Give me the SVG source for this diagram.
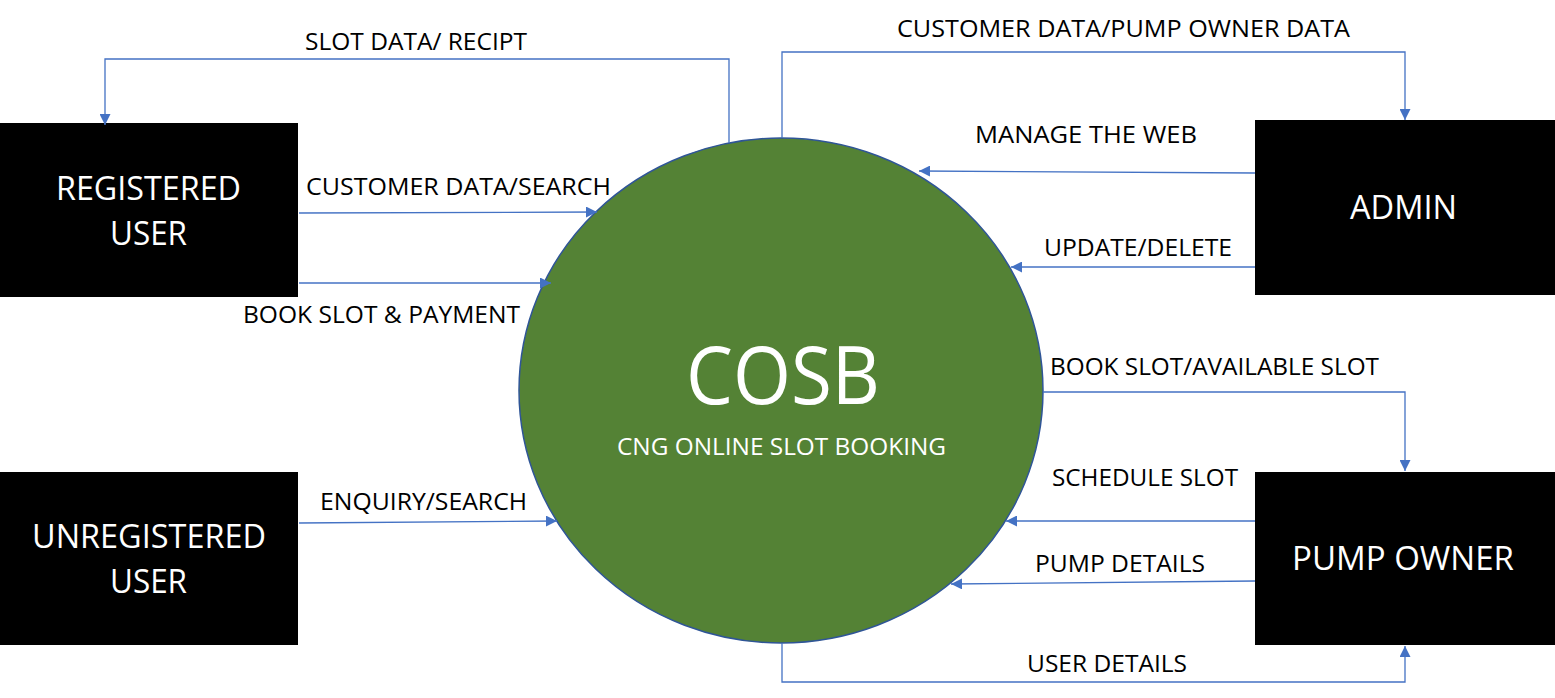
<svg xmlns="http://www.w3.org/2000/svg" width="1555" height="698" viewBox="0 0 1555 698">
<defs>
<style>
.bg{fill:#ffffff}
.box{fill:#000000}
.btxt{fill:#ffffff;font-family:"Open Sans","Liberation Sans",sans-serif;font-size:32px}
.lbl{fill:#000000;font-family:"Open Sans","Liberation Sans",sans-serif;font-size:24px}
.conn{fill:none;stroke:#4472C4;stroke-width:1.3;marker-end:url(#arr)}
.proc{fill:#548235;stroke:#2F5597;stroke-width:1.5}
.ptxt{fill:#ffffff;font-family:"Open Sans","Liberation Sans",sans-serif}
</style>
<marker id="arr" viewBox="0 0 10 10" refX="10" refY="5" markerWidth="11" markerHeight="11" markerUnits="userSpaceOnUse" orient="auto">
<path d="M0,0 L10,5 L0,10 z" fill="#4472C4"/>
</marker>
</defs>
<rect class="bg" x="0" y="0" width="1555" height="698"/>

<g id="cosb">
<ellipse class="proc" cx="781" cy="390.5" rx="262" ry="252.5"/>
<text class="ptxt" x="686" y="404" font-size="80" textLength="194" lengthAdjust="spacingAndGlyphs">COSB</text>
<text class="ptxt" x="617" y="455" font-size="24" textLength="329" lengthAdjust="spacingAndGlyphs">CNG ONLINE SLOT BOOKING</text>
</g>

<g id="registered-user">
<rect class="box" x="0" y="123" width="298" height="174"/>
<text class="btxt" x="56" y="200" textLength="185" lengthAdjust="spacingAndGlyphs">REGISTERED</text>
<text class="btxt" x="110" y="245" textLength="77" lengthAdjust="spacingAndGlyphs">USER</text>
</g>

<g id="unregistered-user">
<rect class="box" x="0" y="472" width="298" height="173"/>
<text class="btxt" x="32" y="548" textLength="234" lengthAdjust="spacingAndGlyphs">UNREGISTERED</text>
<text class="btxt" x="110" y="593" textLength="77" lengthAdjust="spacingAndGlyphs">USER</text>
</g>

<g id="admin">
<rect class="box" x="1255" y="120" width="300" height="175"/>
<text class="btxt" x="1350" y="219" textLength="107" lengthAdjust="spacingAndGlyphs">ADMIN</text>
</g>

<g id="pump-owner">
<rect class="box" x="1255" y="472" width="300" height="173"/>
<text class="btxt" x="1292" y="570" textLength="222" lengthAdjust="spacingAndGlyphs">PUMP OWNER</text>
</g>

<g id="connectors">
<polyline class="conn" points="729,143 729,59 105,59 105,125"/>
<polyline class="conn" points="782,138 782,52 1405,52 1405,120"/>
<line class="conn" x1="299" y1="213" x2="597" y2="212"/>
<line class="conn" x1="299" y1="283" x2="551" y2="283"/>
<line class="conn" x1="299" y1="523" x2="557" y2="521"/>
<line class="conn" x1="1255" y1="173" x2="919" y2="171"/>
<line class="conn" x1="1255" y1="267" x2="1011" y2="267"/>
<polyline class="conn" points="1043,392 1405,392 1405,471"/>
<line class="conn" x1="1255" y1="521" x2="1006" y2="521"/>
<line class="conn" x1="1255" y1="581" x2="951" y2="584"/>
<polyline class="conn" points="782,643 782,682 1405,682 1405,646"/>
</g>

<g id="labels">
<text class="lbl" x="305" y="50" textLength="222" lengthAdjust="spacingAndGlyphs">SLOT DATA/ RECIPT</text>
<text class="lbl" x="897" y="37" textLength="453" lengthAdjust="spacingAndGlyphs">CUSTOMER DATA/PUMP OWNER DATA</text>
<text class="lbl" x="306" y="195" textLength="305" lengthAdjust="spacingAndGlyphs">CUSTOMER DATA/SEARCH</text>
<text class="lbl" x="243" y="323" textLength="277" lengthAdjust="spacingAndGlyphs">BOOK SLOT &amp; PAYMENT</text>
<text class="lbl" x="320" y="510" textLength="207" lengthAdjust="spacingAndGlyphs">ENQUIRY/SEARCH</text>
<text class="lbl" x="975" y="143" textLength="222" lengthAdjust="spacingAndGlyphs">MANAGE THE WEB</text>
<text class="lbl" x="1044" y="256" textLength="188" lengthAdjust="spacingAndGlyphs">UPDATE/DELETE</text>
<text class="lbl" x="1050" y="375" textLength="329" lengthAdjust="spacingAndGlyphs">BOOK SLOT/AVAILABLE SLOT</text>
<text class="lbl" x="1052" y="486" textLength="186" lengthAdjust="spacingAndGlyphs">SCHEDULE SLOT</text>
<text class="lbl" x="1035" y="572" textLength="170" lengthAdjust="spacingAndGlyphs">PUMP DETAILS</text>
<text class="lbl" x="1027" y="672" textLength="160" lengthAdjust="spacingAndGlyphs">USER DETAILS</text>
</g>
</svg>
